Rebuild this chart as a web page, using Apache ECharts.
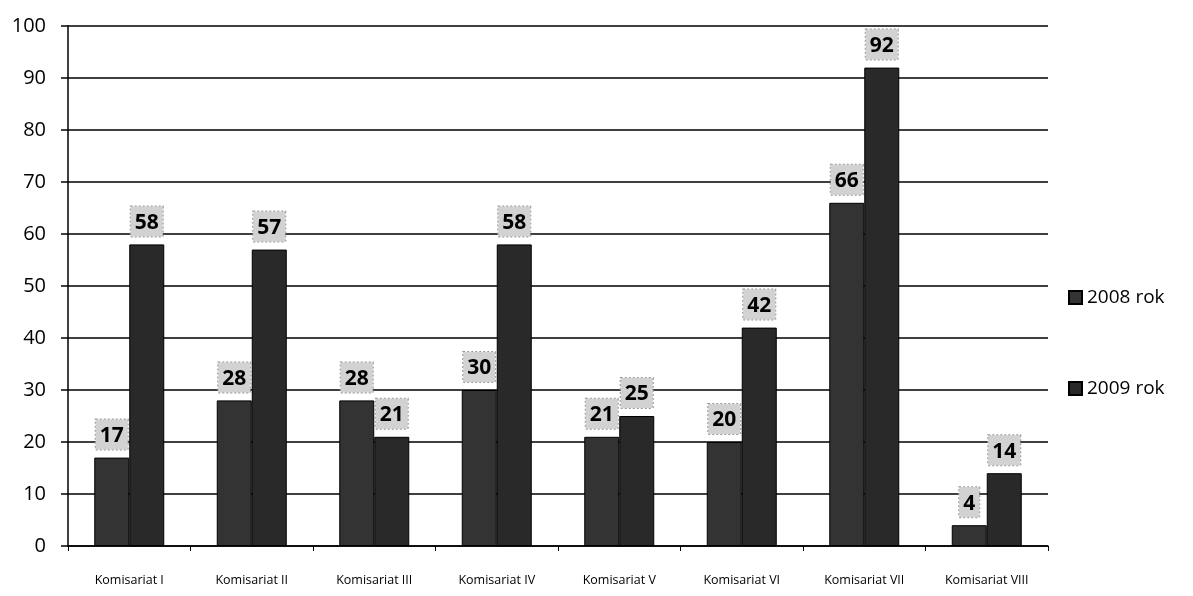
<!DOCTYPE html>
<html><head><meta charset="utf-8">
<script src="https://cdn.jsdelivr.net/npm/echarts@6/dist/echarts.min.js"></script>
<style>html,body{margin:0;padding:0;background:#fff}#c{width:1193px;height:596px}</style>
</head><body><div id="c"></div>
<script>
const categories = ['Komisariat I','Komisariat II','Komisariat III','Komisariat IV','Komisariat V','Komisariat VI','Komisariat VII','Komisariat VIII'];
const values2008 = [17, 28, 28, 30, 21, 20, 66, 4];
const values2009 = [58, 57, 21, 58, 25, 42, 92, 14];
const seriesNames = ['2008 rok', '2009 rok'];
const yTicks = [0,10,20,30,40,50,60,70,80,90,100];

const font = '"Open Sans", "Noto Sans", sans-serif';
const labelStyle = {
  show: true, position: 'top', distance: 8,
  fontFamily: font, fontSize: 21, fontWeight: 'bold', color: '#000',
  backgroundColor: '#d2d2d2', padding: [6, 4, 3, 4],
  borderColor: '#999', borderWidth: 1, borderType: 'dotted'
};
const chart = echarts.init(document.getElementById('c'));
chart.setOption({
  animation: false,
  backgroundColor: '#fff',
  grid: { left: 68, right: 145, top: 26, bottom: 50 },
  legend: {
    orient: 'vertical', left: 1063, top: 283, itemGap: 72,
    itemWidth: 13, itemHeight: 13, icon: 'rect',
    textStyle: { fontFamily: font, fontSize: 19, color: '#000' },
    data: seriesNames
  },
  xAxis: {
    type: 'category', data: categories,
    axisLine: { lineStyle: { color: '#000', width: 1.5 } },
    axisTick: { show: true, length: 5, lineStyle: { color: '#000' } },
    axisLabel: { fontFamily: font, fontSize: 12.5, color: '#000', margin: 28 }
  },
  yAxis: {
    type: 'value', min: yTicks[0], max: yTicks[yTicks.length-1], interval: 10,
    axisLine: { show: true, lineStyle: { color: '#000', width: 1.5 } },
    axisTick: { show: true, length: 7, lineStyle: { color: '#000', width: 1.5 } },
    axisLabel: { fontFamily: font, fontSize: 20, color: '#000', margin: 22 },
    splitLine: { lineStyle: { color: '#000', width: 1.5 } }
  },
  series: [
    { name: seriesNames[0], type: 'bar', data: values2008, barWidth: 35, barGap: '0%',
      itemStyle: { color: '#333', borderColor: '#000', borderWidth: 1 }, label: labelStyle },
    { name: seriesNames[1], type: 'bar', data: values2009, barWidth: 35, barGap: '0%',
      itemStyle: { color: '#292929', borderColor: '#000', borderWidth: 1 }, label: labelStyle }
  ]
});
</script></body></html>
